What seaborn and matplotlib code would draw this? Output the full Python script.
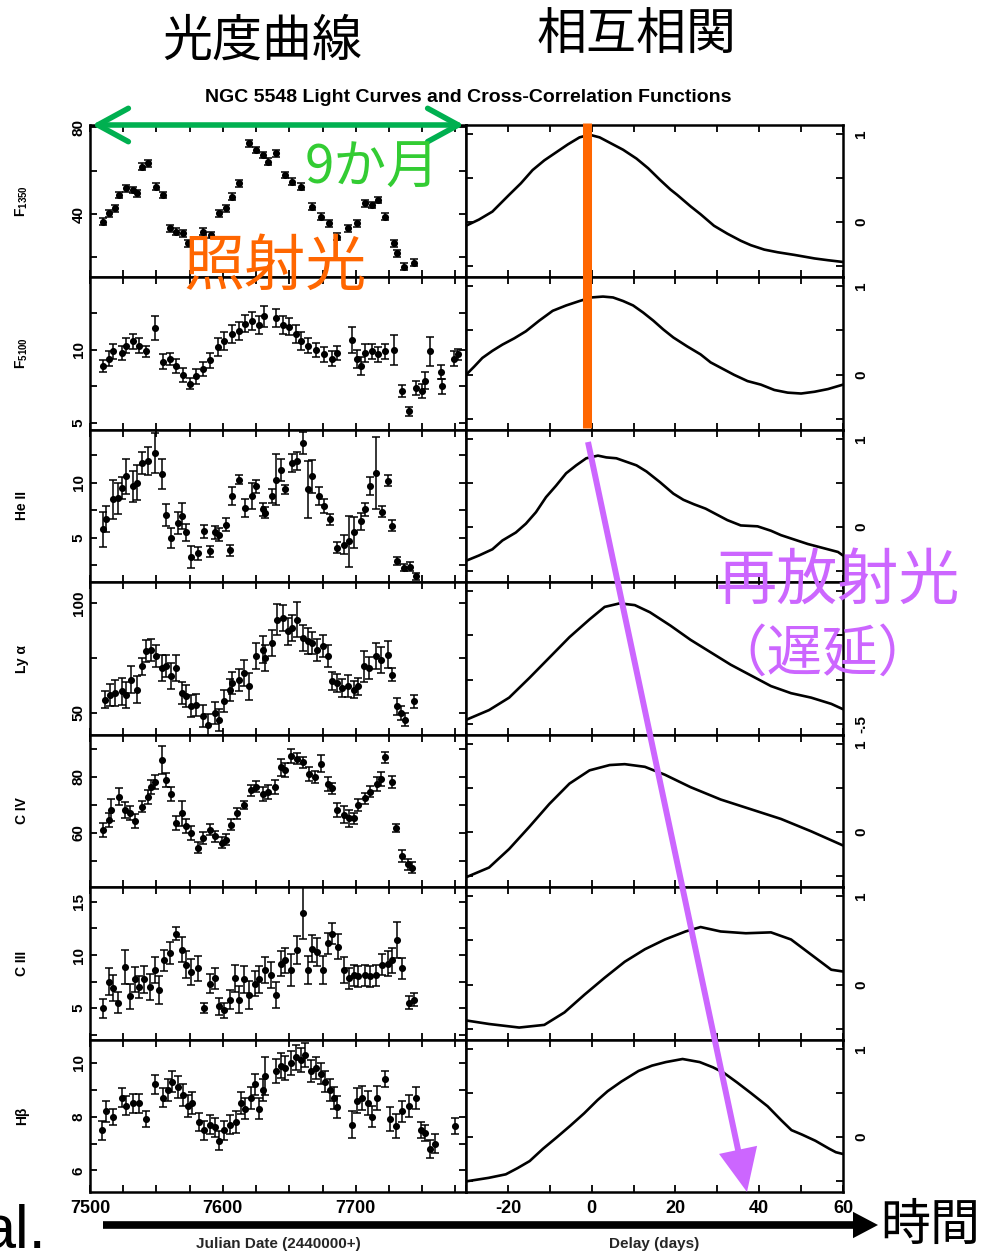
import matplotlib
matplotlib.use("Agg")
import matplotlib.pyplot as plt
import seaborn as sns
import pandas as pd
from matplotlib.lines import Line2D
from matplotlib.patches import FancyArrowPatch
from matplotlib.ticker import FixedLocator, MultipleLocator, FuncFormatter

# ---------------- data: light curves ----------------
f1350_jd = [7510, 7514, 7519, 7522, 7527, 7532, 7535, 7539, 7544, 7550, 7555, 7560, 7565, 7570,
            7574, 7585, 7591, 7597, 7602, 7607, 7612, 7620, 7625, 7630, 7634, 7640, 7647, 7652,
            7659, 7667, 7674, 7680, 7686, 7694, 7701, 7707, 7712, 7717, 7722, 7729, 7731, 7736, 7744]
f1350_val = [36.5, 40.3, 42.6, 48.7, 51.8, 51.0, 49.5, 61.8, 63.3, 52.6, 48.7, 33.4, 31.9, 31.1,
             26.5, 31.9, 30.3, 40.3, 42.6, 48.0, 54.1, 72.5, 69.4, 67.1, 64.1, 67.9, 57.9, 54.9,
             52.6, 43.4, 38.8, 35.7, 29.6, 33.4, 35.7, 44.9, 44.1, 46.4, 38.8, 26.5, 21.9, 15.8, 17.6]
f1350_err = [1.5] * 43

f5100_jd = [7510, 7514, 7517, 7524, 7527, 7532, 7537, 7542, 7549, 7555, 7560, 7565, 7570, 7575,
            7580, 7585, 7590, 7596, 7601, 7607, 7612, 7617, 7622, 7627, 7631, 7640, 7645, 7650,
            7655, 7659, 7664, 7670, 7676, 7682, 7686, 7697, 7701, 7704, 7707, 7712, 7717, 7722,
            7729, 7735, 7740, 7745, 7750, 7752, 7756, 7764, 7765, 7774, 7777]
f5100_val = [8.9, 9.4, 9.9, 9.8, 10.3, 10.6, 10.3, 9.9, 11.5, 9.2, 9.4, 8.9, 8.3, 7.7,
             8.2, 8.7, 9.3, 10.2, 10.6, 11.1, 11.3, 11.8, 12.0, 11.7, 12.3, 12.2, 11.7, 11.6,
             11.1, 10.6, 10.3, 10.0, 9.7, 9.4, 9.8, 10.7, 9.4, 8.9, 9.8, 9.9, 9.7, 9.9,
             10.0, 7.2, 5.8, 7.4, 7.2, 7.9, 9.9, 8.5, 7.5, 9.4, 9.7]
f5100_err = [0.4, 0.5, 0.5, 0.5, 0.5, 0.5, 0.5, 0.4, 0.8, 0.5, 0.4, 0.5, 0.5, 0.4,
             0.5, 0.5, 0.5, 0.6, 0.6, 0.6, 0.6, 0.6, 0.6, 0.6, 0.7, 0.6, 0.6, 0.6,
             0.6, 0.6, 0.5, 0.5, 0.5, 0.5, 0.5, 0.9, 0.6, 0.6, 0.6, 0.5, 0.5, 0.5,
             1.0, 0.4, 0.3, 0.5, 0.5, 0.6, 1.0, 0.5, 0.5, 0.5, 0.4]

heii_jd = [7510, 7512, 7517, 7521, 7524, 7527, 7532, 7535, 7539, 7544, 7549, 7554, 7557, 7561,
           7566, 7569, 7572, 7576, 7581, 7586, 7590, 7594, 7597, 7602, 7605, 7607, 7612, 7617,
           7622, 7625, 7630, 7632, 7637, 7640, 7644, 7647, 7652, 7656, 7660, 7664, 7667, 7672,
           7676, 7681, 7686, 7691, 7695, 7699, 7704, 7707, 7711, 7715, 7720, 7724, 7727, 7731,
           7736, 7741, 7745]
heii_val = [5.8, 6.7, 8.5, 8.6, 9.5, 10.6, 9.7, 10.0, 11.8, 12.0, 12.7, 10.8, 7.1, 5.0,
            6.4, 7.0, 5.5, 3.3, 3.6, 5.6, 3.8, 5.5, 5.3, 6.2, 3.9, 8.8, 10.3, 7.7,
            8.8, 9.7, 7.6, 7.3, 8.8, 10.3, 11.2, 9.4, 11.8, 12.0, 13.6, 9.4, 10.6, 8.8,
            7.9, 6.7, 4.1, 4.4, 4.7, 5.5, 6.5, 7.6, 9.7, 10.9, 7.4, 10.2, 6.1, 2.9,
            2.3, 2.4, 1.5]
heii_err = [1.6, 1.2, 1.8, 1.4, 1.0, 1.6, 1.4, 1.6, 1.0, 1.3, 1.8, 1.4, 1.0, 0.9,
            1.0, 1.2, 0.8, 1.0, 0.6, 0.6, 0.5, 0.6, 0.6, 0.6, 0.5, 0.8, 0.4, 0.8,
            1.2, 0.6, 0.6, 0.5, 0.6, 2.3, 1.0, 0.4, 0.8, 0.8, 1.0, 2.6, 1.5, 0.8,
            0.6, 0.5, 0.5, 0.9, 2.3, 1.4, 0.8, 0.6, 0.8, 3.3, 0.5, 0.5, 0.5, 0.4,
            0.3, 0.4, 0.3]

lya_jd = [7511, 7515, 7519, 7524, 7527, 7531, 7535, 7539, 7542, 7546, 7550, 7554, 7557, 7561,
          7565, 7569, 7572, 7576, 7580, 7585, 7589, 7594, 7597, 7601, 7605, 7607, 7612, 7616,
          7620, 7625, 7630, 7632, 7637, 7641, 7645, 7649, 7652, 7656, 7660, 7664, 7667, 7671,
          7675, 7679, 7682, 7686, 7690, 7694, 7699, 7702, 7706, 7710, 7715, 7719, 7724, 7727,
          7731, 7734, 7737, 7744]
lya_val = [56.1, 58.3, 59.1, 59.8, 58.3, 65.2, 60.6, 71.2, 78.0, 78.8, 75.8, 70.5, 71.2, 66.7,
           70.5, 59.1, 57.6, 53.0, 53.8, 48.5, 44.7, 50.0, 47.0, 55.3, 60.6, 63.6, 65.2, 68.2,
           62.1, 75.8, 78.8, 75.0, 81.8, 92.4, 93.2, 87.1, 88.6, 92.4, 84.1, 82.6, 81.8, 78.8,
           80.3, 75.8, 64.4, 63.6, 61.4, 62.1, 60.6, 62.1, 71.2, 70.5, 75.8, 74.2, 76.5, 67.4,
           53.0, 50.0, 47.0, 55.3]
lya_err = [4.0, 5.0, 6.0, 6.0, 6.0, 6.0, 6.0, 4.0, 5.0, 5.0, 5.0, 6.0, 5.0, 6.0,
           6.0, 5.0, 5.0, 5.0, 5.0, 5.0, 5.0, 5.0, 5.0, 5.0, 5.0, 5.0, 5.0, 6.0,
           6.0, 6.0, 6.0, 6.0, 6.0, 7.0, 6.0, 6.0, 6.0, 8.0, 6.0, 6.0, 5.0, 5.0,
           5.0, 5.0, 4.0, 4.0, 4.0, 5.0, 4.0, 4.0, 7.0, 5.0, 6.0, 6.0, 6.0, 3.0,
           4.0, 3.0, 3.0, 3.0]

civ_jd = [7510, 7514, 7516, 7522, 7526, 7530, 7534, 7539, 7544, 7546, 7549, 7554, 7557, 7561,
          7565, 7569, 7572, 7576, 7581, 7585, 7590, 7594, 7599, 7602, 7606, 7611, 7616, 7621,
          7625, 7630, 7634, 7639, 7644, 7647, 7651, 7656, 7660, 7665, 7669, 7674, 7679, 7682,
          7686, 7691, 7695, 7699, 7702, 7707, 7711, 7716, 7719, 7722, 7727, 7730, 7735, 7739, 7742]
civ_val = [61.2, 64.7, 68.2, 72.9, 68.2, 67.1, 64.1, 69.4, 72.9, 76.5, 78.2, 85.9, 78.8, 74.1,
           63.5, 67.1, 62.4, 60.0, 54.7, 58.2, 61.2, 58.8, 56.5, 57.6, 62.9, 67.1, 70.0, 75.3,
           76.5, 74.1, 74.7, 76.5, 83.5, 82.4, 87.6, 86.5, 85.3, 81.2, 80.0, 84.7, 77.6, 75.9,
           68.2, 66.5, 65.3, 65.3, 70.0, 72.4, 74.7, 77.6, 79.4, 87.1, 78.2, 61.8, 51.8, 48.8, 47.6]
civ_err = [2.5, 2.5, 4.0, 3.0, 3.0, 2.5, 2.5, 2.0, 2.5, 2.5, 2.5, 5.0, 2.5, 2.5,
           2.5, 4.5, 2.5, 2.5, 2.0, 2.0, 2.0, 2.0, 2.0, 2.0, 2.0, 2.0, 1.5, 2.0,
           2.0, 2.5, 2.5, 2.5, 3.0, 2.5, 2.5, 2.0, 2.0, 2.5, 2.0, 3.0, 2.5, 2.0,
           2.5, 3.0, 3.0, 2.0, 2.0, 2.0, 2.0, 2.5, 2.5, 2.0, 2.0, 1.5, 2.0, 2.0, 2.0]

ciii_jd = [7510, 7514, 7517, 7521, 7526, 7530, 7534, 7537, 7541, 7545, 7549, 7552, 7556, 7560,
           7565, 7569, 7572, 7576, 7581, 7586, 7590, 7594, 7597, 7601, 7605, 7609, 7612, 7616,
           7620, 7624, 7627, 7632, 7636, 7640, 7644, 7647, 7651, 7656, 7660, 7664, 7667, 7671,
           7675, 7679, 7682, 7687, 7691, 7695, 7699, 7702, 7707, 7711, 7715, 7720, 7724, 7727,
           7731, 7735, 7740, 7744]
ciii_val = [5.0, 7.5, 6.9, 5.5, 8.9, 6.1, 7.7, 7.0, 7.7, 7.0, 8.6, 6.7, 9.5, 10.2,
            12.0, 10.5, 9.1, 8.4, 8.75, 5.0, 7.3, 7.8, 5.2, 4.8, 5.8, 7.8, 5.8, 7.7,
            6.25, 7.3, 7.7, 8.6, 8.1, 6.25, 9.2, 9.5, 8.6, 10.5, 14.0, 8.6, 10.6, 10.3,
            8.6, 11.1, 12.0, 10.8, 8.6, 7.8, 8.1, 8.0, 8.1, 8.0, 8.1, 9.1, 9.2, 9.5,
            11.4, 8.75, 5.5, 5.8]
ciii_err = [0.9, 1.3, 1.2, 1.0, 1.6, 1.2, 1.2, 1.0, 1.3, 1.2, 1.2, 1.3, 1.0, 1.0,
            0.6, 1.2, 1.3, 1.2, 1.2, 0.5, 0.9, 1.0, 0.8, 0.7, 0.9, 1.3, 1.3, 1.3,
            1.3, 1.2, 1.3, 1.2, 1.2, 1.2, 1.2, 1.2, 1.5, 1.3, 2.5, 1.3, 1.3, 1.3,
            1.3, 1.0, 1.0, 1.2, 1.2, 1.0, 1.0, 1.0, 1.0, 1.0, 1.0, 1.0, 1.2, 1.2,
            1.7, 1.0, 0.6, 0.6]

hb_jd = [7509, 7512, 7517, 7524, 7527, 7532, 7537, 7542, 7549, 7555, 7559, 7562, 7566, 7570,
         7574, 7577, 7582, 7586, 7590, 7594, 7597, 7601, 7605, 7610, 7614, 7617, 7621, 7624,
         7627, 7630, 7632, 7640, 7644, 7647, 7651, 7655, 7659, 7662, 7666, 7670, 7674, 7677,
         7681, 7684, 7686, 7697, 7701, 7705, 7709, 7712, 7716, 7722, 7726, 7730, 7735, 7740,
         7745, 7749, 7752, 7756, 7760, 7775]
hb_val = [7.5, 8.2, 8.0, 8.7, 8.4, 8.5, 8.5, 7.9, 9.2, 8.7, 9.0, 9.3, 9.1, 8.8,
          8.4, 8.5, 7.8, 7.5, 7.7, 7.6, 7.1, 7.5, 7.7, 7.8, 8.5, 8.3, 8.7, 9.2,
          8.3, 9.0, 9.5, 9.7, 9.9, 9.8, 10.0, 10.2, 10.1, 10.3, 9.7, 9.8, 9.6, 9.3,
          9.0, 8.7, 8.35, 7.7, 8.6, 8.7, 8.5, 8.0, 8.7, 9.4, 7.9, 7.65, 8.2, 8.4,
          8.7, 7.5, 7.4, 6.8, 7.0, 7.65]
hb_err = [0.35, 0.4, 0.3, 0.35, 0.35, 0.35, 0.35, 0.3, 0.35, 0.35, 0.4, 0.4, 0.4, 0.4,
          0.4, 0.4, 0.35, 0.35, 0.35, 0.35, 0.35, 0.35, 0.35, 0.4, 0.4, 0.4, 0.4, 0.4,
          0.4, 0.4, 0.7, 0.45, 0.45, 0.45, 0.45, 0.45, 0.45, 0.45, 0.4, 0.4, 0.4, 0.4,
          0.4, 0.4, 0.4, 0.5, 0.45, 0.45, 0.45, 0.4, 0.45, 0.3, 0.45, 0.45, 0.4, 0.4,
          0.4, 0.3, 0.3, 0.35, 0.35, 0.3]

# ---------------- data: cross-correlation functions ----------------
ccf1_lag = [-30, -26.9, -23.7, -19.7, -16.9, -14.1, -11.3, -8.5, -5.7, -2.9, -0.5, 1.9, 4.3, 7.5,
            10.7, 13.5, 16.3, 18.8, 20.4, 23.6, 26, 29.2, 32.4, 35.6, 38, 41.2, 44.4, 48.4,
            53.2, 56.4, 60]
ccf1_r = [-0.04, 0.03, 0.12, 0.31, 0.44, 0.59, 0.70, 0.79, 0.88, 0.96, 0.99, 0.96, 0.90, 0.82,
          0.72, 0.61, 0.48, 0.37, 0.31, 0.18, 0.09, -0.04, -0.13, -0.21, -0.26, -0.31, -0.34, -0.37,
          -0.41, -0.43, -0.45]

ccf2_lag = [-30, -28.1, -26.1, -23.7, -21.3, -18.5, -15.7, -12.5, -9.3, -6.1, -2.9, -0.1, 2.7, 5.1,
            7.5, 9.9, 12.3, 14.7, 17.1, 19.5, 22.8, 26, 28.4, 30.8, 34, 37.2, 40.4, 43.6,
            46.8, 50, 53.2, 56.4, 60]
ccf2_r = [0.0, 0.09, 0.19, 0.27, 0.34, 0.41, 0.49, 0.61, 0.72, 0.78, 0.83, 0.87, 0.88, 0.87,
          0.83, 0.78, 0.70, 0.61, 0.51, 0.42, 0.32, 0.23, 0.14, 0.08, 0.0, -0.07, -0.11, -0.17,
          -0.20, -0.21, -0.19, -0.16, -0.11]

ccf3_lag = [-30, -26.9, -23.7, -21.3, -18.1, -15.7, -13.3, -10.9, -8.5, -6.1, -3.7, -1.3, 1.5, 3.5,
            5.9, 8.3, 10.7, 13.1, 16.3, 19.5, 21.9, 24.4, 27.2, 30, 32.4, 35.6, 39.6, 42.8,
            45.2, 48.4, 51.6, 54, 56.4, 58.8, 60]
ccf3_r = [-0.38, -0.32, -0.25, -0.15, -0.06, 0.04, 0.17, 0.34, 0.47, 0.61, 0.70, 0.78, 0.81, 0.79,
          0.78, 0.74, 0.70, 0.63, 0.51, 0.38, 0.31, 0.26, 0.21, 0.14, 0.08, 0.02, 0.01, -0.04,
          -0.09, -0.14, -0.19, -0.22, -0.25, -0.28, -0.32]

ccf4_lag = [-30, -24.5, -19.7, -14.9, -10.1, -5.3, -0.5, 3.1, 6.7, 10.3, 13.9, 18.8, 23.6, 28.4,
            33.2, 38, 42.8, 47.6, 52.4, 57.2, 60]
ccf4_r = [-0.45, -0.34, -0.20, 0.02, 0.25, 0.48, 0.68, 0.82, 0.86, 0.84, 0.76, 0.61, 0.45, 0.31,
          0.17, 0.05, -0.07, -0.15, -0.20, -0.27, -0.33]

ccf5_lag = [-30, -24.5, -19.7, -14.9, -10.1, -5.3, -0.5, 4.3, 7.9, 12.7, 17.5, 23.6, 30.8, 38,
            45.2, 52.4, 60]
ccf5_r = [-0.51, -0.40, -0.19, 0.06, 0.32, 0.55, 0.70, 0.76, 0.77, 0.74, 0.65, 0.51, 0.37, 0.26,
          0.15, 0.01, -0.15]

ccf6_lag = [-30, -24.5, -17.3, -11.3, -6.5, -1.7, 3.1, 7.9, 12.7, 17.5, 22.4, 26, 30.8, 36.8,
            42.8, 47.6, 52.4, 57.2, 60]
ccf6_r = [-0.40, -0.44, -0.48, -0.45, -0.31, -0.11, 0.08, 0.26, 0.40, 0.51, 0.60, 0.65, 0.60, 0.58,
          0.59, 0.51, 0.34, 0.17, 0.15]

ccf7_lag = [-30, -24.6, -20.5, -17.7, -14.8, -11.6, -8.3, -5.1, -1.8, 1.4, 3.8, 7.1, 11.2, 14.4,
            17.7, 21.7, 25.8, 29, 31.5, 34.7, 38, 42, 45.3, 47.7, 50.2, 53.4, 56.7, 58.3, 60]
ccf7_r = [-0.50, -0.46, -0.42, -0.35, -0.27, -0.13, 0.0, 0.13, 0.27, 0.42, 0.52, 0.63, 0.75, 0.81,
          0.85, 0.885, 0.85, 0.79, 0.73, 0.62, 0.50, 0.35, 0.19, 0.08, 0.03, -0.04, -0.13, -0.17, -0.19]

row_names = [r"F$_{\mathbf{1350}}$", r"F$_{\mathbf{5100}}$", "He II", "Ly α", "C IV", "C III", "Hβ"]
lc_x = [f1350_jd, f5100_jd, heii_jd, lya_jd, civ_jd, ciii_jd, hb_jd]
lc_y = [f1350_val, f5100_val, heii_val, lya_val, civ_val, ciii_val, hb_val]
lc_e = [f1350_err, f5100_err, heii_err, lya_err, civ_err, ciii_err, hb_err]
ccf_x = [ccf1_lag, ccf2_lag, ccf3_lag, ccf4_lag, ccf5_lag, ccf6_lag, ccf7_lag]
ccf_y = [ccf1_r, ccf2_r, ccf3_r, ccf4_r, ccf5_r, ccf6_r, ccf7_r]

left_ylims = [(11, 81), (4.52, 15.0), (1.0, 14.8), (40, 109.5), (40.7, 95), (2.0, 16.4), (5.2, 10.85)]
left_major = [[40, 80], [5, 10], [5, 10], [50, 100], [60, 80], [5, 10, 15], [6, 8, 10]]
left_minor = [[20, 60], [7.5, 12.5], [2.5, 7.5, 12.5], [75], [50, 70, 90], [2.5, 7.5, 12.5], [7, 9]]

x_ticks_left = [7500, 7600, 7700]
x_ticks_right = [-20, 0, 20, 40, 60]

# ---------------- style ----------------
sns.set_theme(style="ticks")
plt.rcParams['font.family'] = ['Liberation Sans', 'DejaVu Sans']
plt.rcParams['font.weight'] = 'bold'
plt.rcParams['axes.unicode_minus'] = False
plt.rcParams['mathtext.fontset'] = 'custom'
plt.rcParams['mathtext.rm'] = 'Liberation Sans:bold'
plt.rcParams['mathtext.bf'] = 'Liberation Sans:bold'
plt.rcParams['mathtext.it'] = 'Liberation Sans:bold'

W, H = 996, 1252
fig = plt.figure(figsize=(W / 100, H / 100), dpi=100)
fig.patch.set_facecolor('white')


def fx(px):
    return px / W


def fy(py):
    return 1 - py / H


rows = [125, 277, 430, 582, 735, 887, 1040, 1192]
LX0, LX1 = 90, 466
RX0, RX1 = 466, 843
JP = ['Noto Sans CJK JP', 'DejaVu Sans']


def style_axis(ax):
    ax.set_facecolor('white')
    for s in ax.spines.values():
        s.set_linewidth(1.8)
        s.set_color('black')
        s.set_visible(True)
    ax.tick_params(which='both', direction='in', top=True, bottom=True, left=True, right=True,
                   width=1.3, color='black', labelcolor='black')
    ax.tick_params(which='major', length=5)
    ax.tick_params(which='minor', length=5)
    ax.grid(False)


for i in range(7):
    top, bot = rows[i], rows[i + 1]
    last = (i == 6)
    axL = fig.add_axes([fx(LX0), fy(bot), fx(LX1 - LX0), (bot - top) / H])
    axR = fig.add_axes([fx(RX0), fy(bot), fx(RX1 - RX0), (bot - top) / H])

    # light curve
    axL.errorbar(lc_x[i], lc_y[i], yerr=lc_e[i], fmt='none', ecolor='black',
                 elinewidth=1.1, capsize=3, capthick=1.1, zorder=2)
    sns.scatterplot(x=lc_x[i], y=lc_y[i], ax=axL, color='black', s=26, linewidth=0,
                    zorder=3, legend=False)
    style_axis(axL)
    axL.set_xlim(7500, 7783)
    axL.set_ylim(*left_ylims[i])
    axL.xaxis.set_major_locator(FixedLocator(x_ticks_left))
    axL.xaxis.set_minor_locator(MultipleLocator(25))
    axL.yaxis.set_major_locator(FixedLocator(left_major[i]))
    axL.yaxis.set_minor_locator(FixedLocator(left_minor[i]))
    axL.yaxis.set_major_formatter(FuncFormatter(lambda v, p: f"{v:g}"))
    axL.tick_params(axis='y', labelrotation=90, labelsize=11, pad=3)
    for lb in axL.get_yticklabels():
        lb.set_va('center')
    axL.set_xlabel('')
    axL.set_ylabel('')
    if last:
        axL.tick_params(axis='x', labelbottom=True, labelsize=13, pad=6)
        axL.set_xlabel("Julian Date (2440000+)", fontsize=11, fontweight='bold', labelpad=14)
    else:
        axL.tick_params(axis='x', labelbottom=False)

    # cross-correlation function
    dfc = pd.DataFrame({'lag': ccf_x[i], 'r': ccf_y[i]})
    sns.lineplot(data=dfc, x='lag', y='r', ax=axR, color='black', lw=1.9, legend=False)
    style_axis(axR)
    axR.set_xlim(-30, 60)
    axR.set_ylim(-0.62, 1.1)
    axR.xaxis.set_major_locator(FixedLocator(x_ticks_right))
    axR.xaxis.set_minor_locator(MultipleLocator(10))
    if i == 3:
        # the 1 and 0 labels of this panel are hidden under the annotation; only -.5 shows
        axR.yaxis.set_major_locator(FixedLocator([-0.5]))
        axR.yaxis.set_minor_locator(FixedLocator([0, 0.5, 1]))
    else:
        axR.yaxis.set_major_locator(FixedLocator([0, 1]))
        axR.yaxis.set_minor_locator(FixedLocator([-0.5, 0.5]))
    axR.yaxis.set_major_formatter(FuncFormatter(lambda v, p: {1: '1', 0: '0', -0.5: '-.5'}.get(v, '')))
    axR.tick_params(axis='y', labelleft=False, labelright=True, labelrotation=90, labelsize=11, pad=8)
    for lb in axR.get_yticklabels():
        lb.set_va('center')
    axR.set_xlabel('')
    axR.set_ylabel('')
    if last:
        axR.tick_params(axis='x', labelbottom=True, labelsize=13, pad=6)
        axR.set_xlabel("Delay (days)", fontsize=11, fontweight='bold', labelpad=14)
    else:
        axR.tick_params(axis='x', labelbottom=False)

    fig.text(fx(22), fy((top + bot) / 2), row_names[i], rotation=90, ha='center', va='center',
             fontsize=10, fontweight='bold', color='black')

# ---------------- titles & annotations ----------------
fig.text(fx(468), fy(97), "NGC 5548 Light Curves and Cross-Correlation Functions",
         ha='center', va='center', fontsize=14, fontweight='bold', color='black')
fig.text(fx(262), fy(42), "光度曲線", ha='center', va='center', fontsize=36,
         family=JP, fontweight='normal', color='black')
fig.text(fx(637), fy(36), "相互相関", ha='center', va='center', fontsize=36,
         family=JP, fontweight='normal', color='black')

# green double arrow (9 months)
fig.add_artist(FancyArrowPatch((fx(92), fy(125)), (fx(464), fy(125)), transform=fig.transFigure,
                               arrowstyle='<->,head_length=22,head_width=12', mutation_scale=1,
                               lw=4, color='#00B050', shrinkA=0, shrinkB=0, capstyle='round'))
fig.text(fx(372), fy(168), "9か月", ha='center', va='center', fontsize=38,
         family=JP, fontweight='normal', color='#33CC33')

fig.text(fx(275), fy(268), "照射光", ha='center', va='center', fontsize=44,
         family=JP, fontweight='normal', color='#FF6600')

# orange zero-delay line
fig.add_artist(Line2D([fx(587), fx(587)], [fy(123), fy(428)], transform=fig.transFigure,
                      color='#FF6600', lw=6.5, solid_capstyle='butt'))

# purple delayed arrow
fig.add_artist(FancyArrowPatch((fx(588), fy(442)), (fx(747), fy(1192)), transform=fig.transFigure,
                               arrowstyle='simple,head_length=31,head_width=28,tail_width=4.3',
                               mutation_scale=1, color='#CC66FF', lw=0, shrinkA=0, shrinkB=0))
fig.text(fx(838), fy(581), "再放射光", ha='center', va='center', fontsize=44,
         family=JP, fontweight='normal', color='#CC66FF')
fig.text(fx(822), fy(655), "（遅延）", ha='center', va='center', fontsize=40,
         family=JP, fontweight='normal', color='#CC66FF')

# time arrow
fig.add_artist(FancyArrowPatch((fx(103), fy(1225)), (fx(878), fy(1225)), transform=fig.transFigure,
                               arrowstyle='simple,head_length=18,head_width=19,tail_width=5.5',
                               mutation_scale=1, color='black', lw=0, shrinkA=0, shrinkB=0))
fig.text(fx(930), fy(1226), "時間", ha='center', va='center', fontsize=36,
         family=JP, fontweight='normal', color='black')
fig.text(fx(46), fy(1248), "al.", ha='right', va='baseline', fontsize=44,
         family=['Liberation Sans'], fontweight='normal', color='black')

fig.savefig("out.png", dpi=100, facecolor='white')
